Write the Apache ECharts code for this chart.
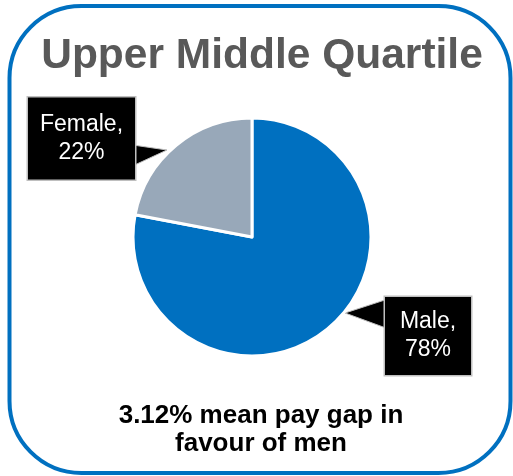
<!DOCTYPE html>
<html>
<head>
<meta charset="utf-8">
<script src="https://cdn.jsdelivr.net/npm/echarts@6/dist/echarts.min.js"></script>
<style>
  html, body { margin: 0; padding: 0; background: #fff; }
  #chart { width: 513px; height: 476px; }
</style>
</head>
<body>
<div id="chart"></div>
<script>
const categories = ['Male', 'Female']
const shares = [78, 22]
const sliceColors = ['#0070c0', '#98a8b9']
const titleText = 'Upper Middle Quartile'
const noteText = '3.12% mean pay gap in\nfavour of men'

const chart = echarts.init(document.getElementById('chart'))

// label box centres + padding, per slice
const labelBoxes = [
  { x: 428, y: 336, width: 58, padding: [11, 14] },
  { x: 81.5, y: 138.5, width: 87, padding: [13, 10] }
]

chart.setOption({
  backgroundColor: '#fff',
  animation: false,
  title: [
    {
      text: titleText,
      left: 257,
      top: 30,
      textAlign: 'center',
      textStyle: {
        fontFamily: 'Liberation Sans',
        fontSize: 42.5,
        fontWeight: 'bold',
        color: '#595959'
      }
    },
    {
      text: noteText,
      left: 256,
      top: 397,
      textAlign: 'center',
      textStyle: {
        fontFamily: 'Liberation Sans',
        fontSize: 26,
        lineHeight: 28,
        fontWeight: 'bold',
        color: '#000'
      }
    }
  ],
  graphic: [
    {
      type: 'rect',
      z: 0,
      shape: { x: 9.5, y: 6, width: 501, height: 467, r: 72 },
      style: { fill: 'none', stroke: '#0070c0', lineWidth: 4 }
    },
    {
      type: 'polygon',
      z: 1,
      shape: { points: [[126, 144], [167, 150], [126, 169]] },
      style: { fill: '#000', stroke: '#bfbfbf', lineWidth: 1 }
    },
    {
      type: 'polygon',
      z: 1,
      shape: { points: [[394, 297], [345, 313], [394, 331]] },
      style: { fill: '#000', stroke: '#bfbfbf', lineWidth: 1 }
    }
  ],
  series: [
    {
      type: 'pie',
      z: 2,
      center: [252, 237],
      radius: 119,
      startAngle: 90,
      clockwise: true,
      itemStyle: { borderColor: '#fff', borderWidth: 3 },
      labelLine: { show: false },
      label: {
        show: true,
        position: 'outside',
        formatter: '{b},\n{c}%',
        fontFamily: 'Liberation Sans',
        fontSize: 23,
        lineHeight: 28,
        color: '#fff',
        align: 'center',
        overflow: 'none',
        backgroundColor: '#000',
        borderColor: '#bfbfbf',
        borderWidth: 1.5
      },
      labelLayout: (params) => {
        const box = labelBoxes[params.dataIndex]
        return { x: box.x, y: box.y, align: 'center', verticalAlign: 'middle' }
      },
      data: categories.map((name, i) => ({
        name,
        value: shares[i],
        itemStyle: { color: sliceColors[i] },
        label: {
          width: labelBoxes[i].width,
          padding: labelBoxes[i].padding
        }
      }))
    }
  ]
})
</script>
</body>
</html>
